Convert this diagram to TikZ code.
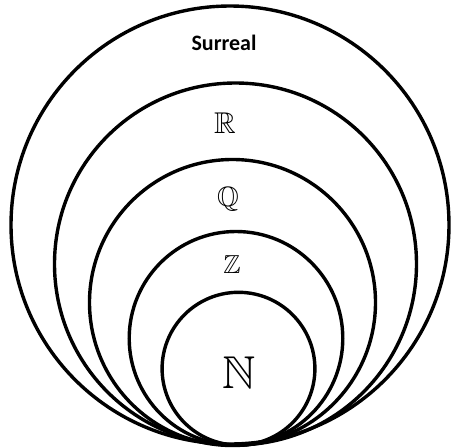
\documentclass[tikz,border=0pt]{standalone}
\usepackage{amssymb}
\usepackage{fontspec}
\newfontfamily\calib{Carlito}
\begin{document}
\begin{tikzpicture}[x=1pt,y=-1pt,
  ring/.style={draw=black,line width=3.4pt},
  setlabel/.style={inner sep=0pt,text=black}]
\useasboundingbox (0,0) rectangle (451,448);
\draw[ring] (230,225) circle[radius=219pt];
\draw[ring] (235.5,264) circle[radius=181pt];
\draw[ring] (232.5,302.5) circle[radius=143pt];
\draw[ring] (236,338.3) circle[radius=106.8pt];
\draw[ring] (238.5,368.7) circle[radius=76.4pt];
\node[setlabel] (surreal) at (224,43) {\calib\bfseries\fontsize{22}{24}\selectfont Surreal};
\node[setlabel] (reals) at (225,123) {\fontsize{30}{32}\selectfont$\mathbb{R}$};
\node[setlabel] (rats) at (228,199) {\fontsize{28}{30}\selectfont$\mathbb{Q}$};
\node[setlabel] (ints) at (232,265) {\fontsize{26}{28}\selectfont$\mathbb{Z}$};
\node[setlabel] (nats) at (239,373) {\fontsize{46}{48}\selectfont$\mathbb{N}$};
\end{tikzpicture}
\end{document}
